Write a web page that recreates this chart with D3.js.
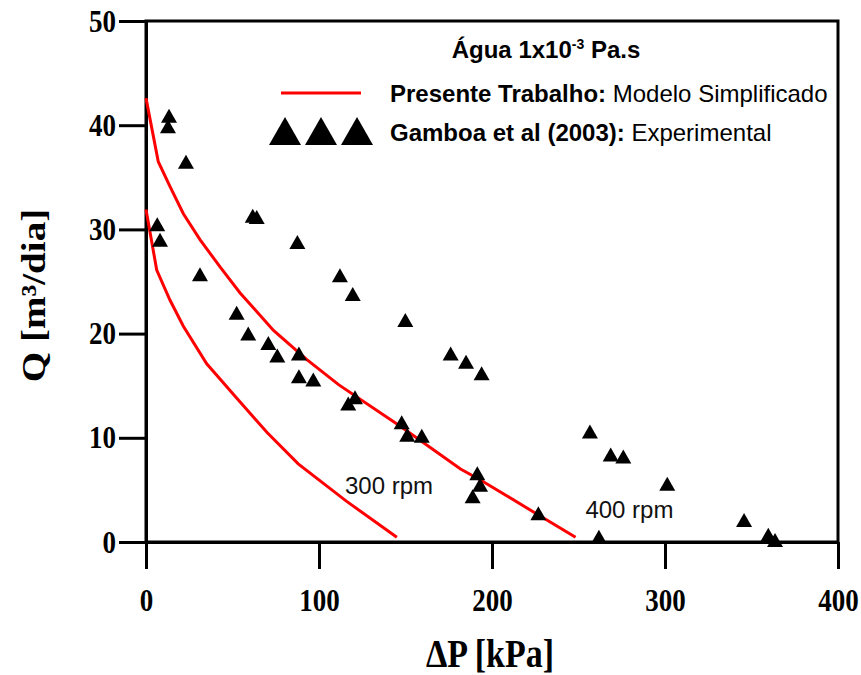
<!DOCTYPE html>
<html>
<head>
<meta charset="utf-8">
<script src="https://cdn.jsdelivr.net/npm/d3@7/dist/d3.min.js"></script>
<style>
  html, body { margin: 0; padding: 0; background: #fff; }
  svg { display: block; }
  .sans { font-family: "Liberation Sans", Arial, sans-serif; }
  .serif { font-family: "Liberation Serif", "Times New Roman", serif; font-weight: bold; }
</style>
</head>
<body>
<svg id="chart" width="861" height="675"></svg>
<script>
// Axis ticks
const dpTicks = [0, 100, 200, 300, 400];
const qTicks = [0, 10, 20, 30, 40, 50];

// Gamboa et al (2003): experimental points (ΔP in kPa, Q in m³/dia)
const expDP = [13.3, 12.7, 23.1, 6.5, 8.1, 61.7, 64.0, 87.5, 31.2, 112.1,
               119.5, 52.4, 59.1, 70.7, 75.9, 88.4, 88.4, 96.7, 149.9, 116.9,
               120.8, 147.8, 151.0, 159.4, 176.1, 185.0, 194.0, 191.5, 193.1, 188.8,
               226.8, 256.6, 268.6, 275.9, 301.3, 261.8, 345.7, 359.7, 363.6];
const expQ  = [40.9, 39.9, 36.5, 30.5, 29.0, 31.3, 31.2, 28.8, 25.7, 25.6,
               23.8, 22.0, 20.0, 19.1, 17.9, 18.1, 15.9, 15.6, 21.3, 13.3,
               13.9, 11.5, 10.3, 10.2, 18.1, 17.3, 16.2, 6.6, 5.5, 4.4,
               2.75, 10.6, 8.4, 8.2, 5.6, 0.5, 2.1, 0.7, 0.2];

// Presente Trabalho: simplified model curves
const model300DP = [0, 6.2, 13.9, 21.6, 35.1, 52.5, 70, 88, 116, 145];
const model300Q  = [31.9, 26.1, 23.2, 20.7, 17.1, 13.8, 10.5, 7.5, 3.9, 0.45];
const model400DP = [0, 7.1, 13.9, 21.6, 31.3, 42.8, 54.4, 73.7, 93, 111.3, 147, 181.8, 193.3, 248.3];
const model400Q  = [42.6, 36.5, 34.1, 31.5, 29.0, 26.4, 23.9, 20.3, 17.5, 15.1, 11.1, 7.0, 5.95, 0.45];

const curveLabels = ["300 rpm", "400 rpm"];
const curveLabelPos = [[115, 4.6], [254, 2.3]];

const svg = d3.select("#chart");
const mLeft = 146, mRight = 838, mTop = 21, mBottom = 542;
const stretch = 1.15;   // tall serif lettering

const x = d3.scaleLinear().domain([0, 400]).range([mLeft, mRight]);
const y = d3.scaleLinear().domain([0, 50]).range([mBottom, mTop]);

// Frame (top and right borders)
svg.append("rect")
  .attr("x", mLeft).attr("y", mTop)
  .attr("width", mRight - mLeft).attr("height", mBottom - mTop)
  .attr("fill", "none").attr("stroke", "#000").attr("stroke-width", 3);

// Axes
const xAxis = svg.append("g")
  .attr("transform", `translate(0,${mBottom})`)
  .call(d3.axisBottom(x).tickValues(dpTicks).tickSizeInner(27).tickSizeOuter(0));
const yAxis = svg.append("g")
  .attr("transform", `translate(${mLeft},0)`)
  .call(d3.axisLeft(y).tickValues(qTicks).tickSizeInner(27).tickSizeOuter(0));

[xAxis, yAxis].forEach(g => {
  g.select(".domain").attr("stroke", "#000").attr("stroke-width", 3);
  g.selectAll(".tick line").attr("stroke", "#000").attr("stroke-width", 3);
  g.selectAll(".tick text")
    .attr("class", "serif")
    .attr("font-size", 27)
    .attr("fill", "#000")
    .attr("x", null).attr("y", null).attr("dy", null);
});
xAxis.selectAll(".tick text")
  .attr("text-anchor", "middle")
  .attr("transform", `translate(0,69) scale(1,${stretch})`);
yAxis.selectAll(".tick text")
  .attr("text-anchor", "end")
  .attr("transform", `translate(-30,10) scale(1,${stretch})`);

// Axis titles
svg.append("text")
  .attr("class", "serif")
  .attr("transform", `translate(${(mLeft + mRight) / 2 - 2},667) scale(1,${stretch})`)
  .attr("text-anchor", "middle")
  .attr("font-size", 34)
  .text("ΔP [kPa]");

svg.append("text")
  .attr("class", "serif")
  .attr("transform", `translate(45,${(mTop + mBottom) / 2 + 14}) rotate(-90) scale(${stretch},1)`)
  .attr("text-anchor", "middle")
  .attr("font-size", 34)
  .text("Q [m³/dia]");

// Model curves
const line = d3.line().x(d => x(d[0])).y(d => y(d[1]));
[[model300DP, model300Q], [model400DP, model400Q]].forEach(([dp, q]) => {
  svg.append("path")
    .datum(dp.map((v, i) => [v, q[i]]))
    .attr("d", line)
    .attr("fill", "none")
    .attr("stroke", "#ff0000")
    .attr("stroke-width", 3);
});

// Triangle marker centred on its bounding box
function tri(w, h) {
  return `M0,${-h / 2}L${w / 2},${h / 2}L${-w / 2},${h / 2}Z`;
}

svg.append("g")
  .selectAll("path")
  .data(expDP.map((v, i) => [v, expQ[i]]))
  .join("path")
  .attr("transform", d => `translate(${x(d[0])},${y(d[1])})`)
  .attr("d", tri(16, 14))
  .attr("fill", "#000");

// Curve labels
svg.append("g")
  .selectAll("text")
  .data(curveLabels)
  .join("text")
  .attr("class", "sans")
  .attr("x", (d, i) => x(curveLabelPos[i][0]))
  .attr("y", (d, i) => y(curveLabelPos[i][1]))
  .attr("font-size", 24)
  .attr("fill", "#111")
  .text(d => d);

// Legend
const title = svg.append("text")
  .attr("class", "sans")
  .attr("x", 546).attr("y", 58)
  .attr("text-anchor", "middle")
  .attr("font-size", 24)
  .attr("font-weight", "bold");
title.append("tspan").text("Água 1x10");
title.append("tspan").attr("font-size", 14).attr("dy", -9).text("-3");
title.append("tspan").attr("dy", 9).text(" Pa.s");

svg.append("line")
  .attr("x1", 281).attr("x2", 361)
  .attr("y1", 93).attr("y2", 93)
  .attr("stroke", "#ff0000").attr("stroke-width", 3);

const l1 = svg.append("text")
  .attr("class", "sans")
  .attr("x", 390).attr("y", 102)
  .attr("font-size", 24);
l1.append("tspan").attr("font-weight", "bold").text("Presente Trabalho:");
l1.append("tspan").text(" Modelo Simplificado");

svg.append("g")
  .selectAll("path")
  .data([285, 321, 357])
  .join("path")
  .attr("transform", d => `translate(${d},131)`)
  .attr("d", tri(32, 28))
  .attr("fill", "#000");

const l2 = svg.append("text")
  .attr("class", "sans")
  .attr("x", 390).attr("y", 141)
  .attr("font-size", 24);
l2.append("tspan").attr("font-weight", "bold").text("Gamboa et al (2003):");
l2.append("tspan").text(" Experimental");
</script>
</body>
</html>
